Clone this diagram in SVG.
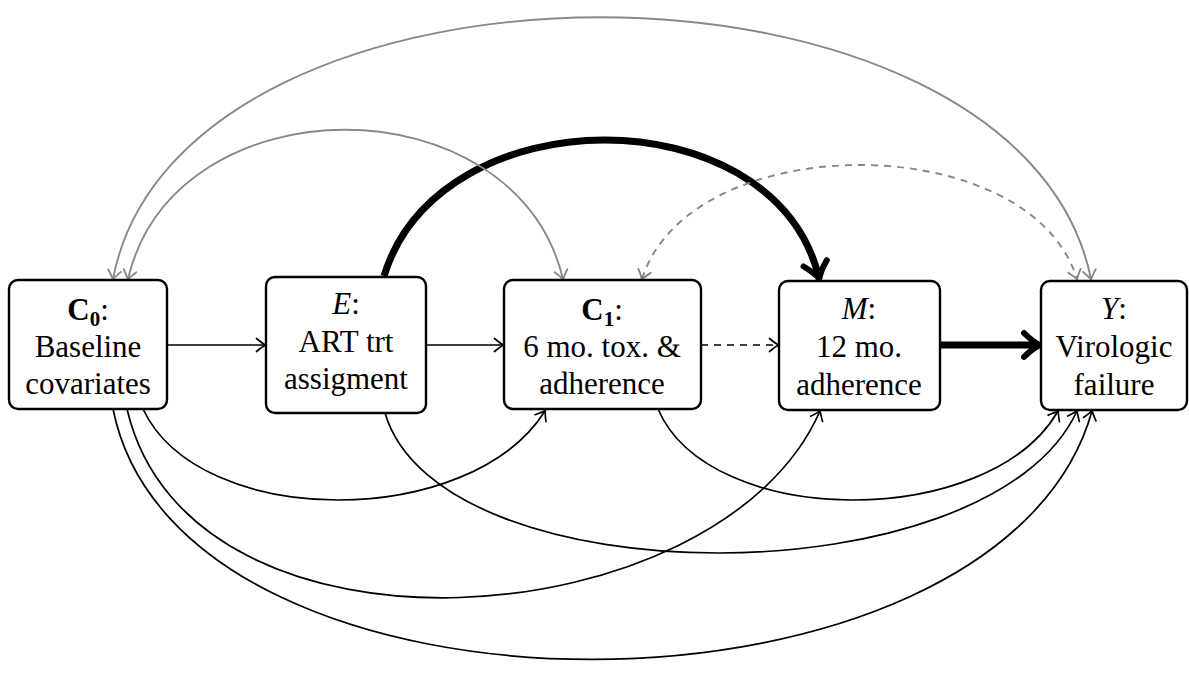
<svg xmlns="http://www.w3.org/2000/svg" width="1189" height="681" viewBox="0 0 1189 681">
<style>
  .box { fill: #ffffff; stroke: #000000; stroke-width: 2.4; }
  .lbl { font-family: 'Liberation Serif', Tinos, 'Nimbus Roman', 'DejaVu Serif', serif; font-size: 31px; fill: #000000; text-anchor: middle; }
  .it { font-style: italic; }
  .bf { font-weight: bold; }
  .sub { font-size: 21px; font-weight: bold; }
  .thin { fill: none; stroke: #000000; stroke-width: 1.7; }
  .gray { fill: none; stroke: #888888; stroke-width: 1.9; }
  .dash { stroke-dasharray: 7 6; }
  .thick { fill: none; stroke: #000000; stroke-width: 7; }
</style>
<defs>
  <marker id="ab" markerUnits="userSpaceOnUse" orient="auto" refX="0" refY="0" markerWidth="20" markerHeight="20" overflow="visible">
    <path d="M -8.5 -6.5 Q -2.5 -1.5 0.5 0 Q -2.5 1.5 -8.5 6.5" fill="none" stroke="#000000" stroke-width="1.7" stroke-linecap="round"/>
  </marker>
  <marker id="ag" markerUnits="userSpaceOnUse" orient="auto-start-reverse" refX="0" refY="0" markerWidth="20" markerHeight="20" overflow="visible">
    <path d="M -8.5 -6.5 Q -2.5 -1.5 0.5 0 Q -2.5 1.5 -8.5 6.5" fill="none" stroke="#888888" stroke-width="1.9" stroke-linecap="round"/>
  </marker>
  <marker id="at" markerUnits="userSpaceOnUse" orient="auto" refX="0" refY="0" markerWidth="40" markerHeight="40" overflow="visible">
    <path d="M -11 -12 Q -2 -3 5 0 Q -2 3 -11 12" fill="none" stroke="#000000" stroke-width="6" stroke-linecap="round" stroke-linejoin="round"/>
  </marker>
</defs>
<rect width="1189" height="681" fill="#ffffff"/>

<g id="connectors">
  <!-- straight -->
  <path class="thin" d="M 167 345 L 265 345" marker-end="url(#ab)"/>
  <path class="thin" d="M 426 345 L 503 345" marker-end="url(#ab)"/>
  <path class="thin dash" d="M 701 345 L 778 345" marker-end="url(#ab)"/>
  <path class="thick" d="M 940 345 L 1035 345" marker-end="url(#at)"/>
  <!-- thick arc E to M -->
  <path class="thick" d="M 384 276 C 440 95, 770 95, 818 274" marker-end="url(#at)"/>
  <!-- gray bidirected arcs -->
  <path class="gray" d="M 113 279 C 180 -70, 1020 -70, 1091 279" marker-start="url(#ag)" marker-end="url(#ag)"/>
  <path class="gray" d="M 128 279 C 175 80, 515 80, 563 279" marker-start="url(#ag)" marker-end="url(#ag)"/>
  <path class="gray dash" d="M 642 279 C 690 127, 1030 127, 1077 279" marker-start="url(#ag)" marker-end="url(#ag)"/>
  <!-- bottom curves -->
  <path class="thin" d="M 143 409 C 200 530, 470 530, 545 411" marker-end="url(#ab)"/>
  <path class="thin" d="M 127 409 C 190 680, 720 640, 820 411" marker-end="url(#ab)"/>
  <path class="thin" d="M 113 409 C 180 745, 1000 740, 1092 411" marker-end="url(#ab)"/>
  <path class="thin" d="M 385 413 C 440 600, 990 600, 1077 411" marker-end="url(#ab)"/>
  <path class="thin" d="M 658 409 C 710 530, 990 530, 1058 411" marker-end="url(#ab)"/>
</g>

<g id="node-C0">
  <rect class="box" x="9" y="280" width="158" height="129" rx="9"/>
  <text class="lbl" x="88" y="320"><tspan class="bf">C</tspan><tspan class="sub" dy="6">0</tspan><tspan dy="-6">:</tspan></text>
  <text class="lbl" x="88" y="357">Baseline</text>
  <text class="lbl" x="88" y="394">covariates</text>
</g>

<g id="node-E">
  <rect class="box" x="266" y="277" width="160" height="136" rx="9"/>
  <text class="lbl" x="346" y="314"><tspan class="it">E</tspan>:</text>
  <text class="lbl" x="346" y="352">ART trt</text>
  <text class="lbl" x="346" y="389">assigment</text>
</g>

<g id="node-C1">
  <rect class="box" x="504" y="280" width="197" height="129" rx="9"/>
  <text class="lbl" x="602" y="320"><tspan class="bf">C</tspan><tspan class="sub" dy="6">1</tspan><tspan dy="-6">:</tspan></text>
  <text class="lbl" x="602" y="357">6 mo. tox. &amp;</text>
  <text class="lbl" x="602" y="394">adherence</text>
</g>

<g id="node-M">
  <rect class="box" x="779" y="281" width="161" height="129" rx="9"/>
  <text class="lbl" x="859" y="319"><tspan class="it">M</tspan>:</text>
  <text class="lbl" x="859" y="357">12 mo.</text>
  <text class="lbl" x="859" y="395">adherence</text>
</g>

<g id="node-Y">
  <rect class="box" x="1041" y="281" width="146" height="129" rx="9"/>
  <text class="lbl" x="1114" y="319"><tspan class="it">Y</tspan>:</text>
  <text class="lbl" x="1114" y="357">Virologic</text>
  <text class="lbl" x="1114" y="395">failure</text>
</g>
</svg>
